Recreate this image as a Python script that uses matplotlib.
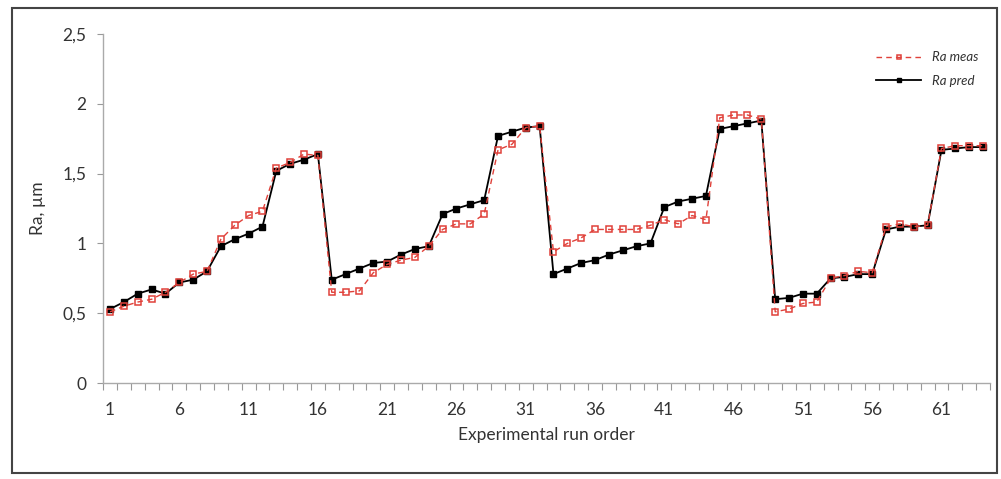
import matplotlib.pyplot as plt
import matplotlib.patches as mpatches
from matplotlib.ticker import FuncFormatter, FixedLocator
import numpy as np

plt.rcParams['font.family'] = ['Lato', 'DejaVu Sans']

# Surface roughness per experimental run (64 runs)
run_order = np.arange(1, 65)
ra_meas = [0.51, 0.55, 0.58, 0.60, 0.65, 0.72, 0.78, 0.80,
           1.03, 1.13, 1.20, 1.23, 1.54, 1.58, 1.64, 1.63,
           0.65, 0.65, 0.66, 0.79, 0.85, 0.88, 0.90, 0.98,
           1.10, 1.14, 1.14, 1.21, 1.67, 1.71, 1.83, 1.84,
           0.94, 1.00, 1.04, 1.10, 1.10, 1.10, 1.10, 1.13,
           1.17, 1.14, 1.20, 1.17, 1.90, 1.92, 1.92, 1.89,
           0.51, 0.53, 0.57, 0.58, 0.75, 0.77, 0.80, 0.79,
           1.12, 1.14, 1.12, 1.13, 1.68, 1.70, 1.70, 1.70]
ra_pred = [0.53, 0.58, 0.64, 0.67, 0.64, 0.72, 0.74, 0.80,
           0.98, 1.03, 1.07, 1.12, 1.52, 1.57, 1.60, 1.64,
           0.74, 0.78, 0.82, 0.86, 0.87, 0.92, 0.96, 0.98,
           1.21, 1.25, 1.28, 1.31, 1.77, 1.80, 1.83, 1.84,
           0.78, 0.82, 0.86, 0.88, 0.92, 0.95, 0.98, 1.00,
           1.26, 1.30, 1.32, 1.34, 1.82, 1.84, 1.86, 1.88,
           0.60, 0.61, 0.64, 0.64, 0.75, 0.76, 0.78, 0.78,
           1.10, 1.12, 1.12, 1.13, 1.67, 1.68, 1.69, 1.69]
label_runs = list(range(1, 62, 5))

fig = plt.figure(figsize=(10.01, 4.79), dpi=100)
ax = fig.add_axes([0.103, 0.2004, 0.886, 0.7286])

ax.plot(run_order, ra_pred, '-', color='black', linewidth=1.3,
        marker='s', markersize=5, markerfacecolor='black',
        markeredgecolor='black', label='Ra pred', zorder=3)
ax.plot(run_order, ra_meas, '--', color='#e0413a', linewidth=1.0,
        dashes=(4, 3), marker='s', markersize=4.5, markerfacecolor='none',
        markeredgecolor='#e0413a', markeredgewidth=1.1,
        label='Ra meas', zorder=4)

ax.set_xlim(0.5, 64.5)
ax.set_ylim(0, 2.5)
ax.set_yticks([0, 0.5, 1, 1.5, 2, 2.5])
ax.yaxis.set_major_formatter(FuncFormatter(lambda v, p: f"{v:g}".replace('.', ',')))

# category labels every 5 runs, tick marks between categories
ax.xaxis.set_major_locator(FixedLocator(label_runs))
ax.xaxis.set_minor_locator(FixedLocator(np.arange(0.5, 65, 1)))
ax.tick_params(axis='x', which='major', length=0, pad=14, labelsize=12.5, colors='#333333')
ax.tick_params(axis='x', which='minor', length=5, width=0.8, color='#999999', direction='out')
ax.tick_params(axis='y', which='major', length=4, width=0.8, color='#999999',
               labelsize=12.5, labelcolor='#333333', pad=8)

for side in ['top', 'right']:
    ax.spines[side].set_visible(False)
for side in ['left', 'bottom']:
    ax.spines[side].set_color('#aaaaaa')
    ax.spines[side].set_linewidth(1.0)

ax.set_xlabel('Experimental run order', fontsize=12.5, color='#333333', labelpad=6)
ax.set_ylabel('Ra, µm', fontsize=12.5, color='#333333', labelpad=12)

handles, labels = ax.get_legend_handles_labels()
leg = ax.legend(handles[::-1], labels[::-1], loc='upper right',
                bbox_to_anchor=(1.0, 0.985), frameon=False,
                prop={'style': 'italic', 'size': 9.5}, handlelength=3.4,
                labelspacing=0.9, markerscale=0.6)
for t in leg.get_texts():
    t.set_color('#333333')

# outer chart frame
fig.patches.append(mpatches.Rectangle((0.012, 0.012), 0.984, 0.972,
                                      transform=fig.transFigure, fill=False,
                                      edgecolor='#444444', linewidth=1.5))

plt.savefig('out.png', dpi=100)
